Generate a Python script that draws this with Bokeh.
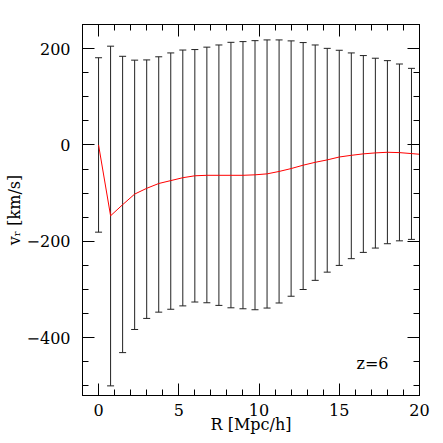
import math
from bokeh.plotting import figure
from bokeh.models import (ColumnDataSource, Range1d, LinearAxis, SingleIntervalTicker,
                          CustomJSTickFormatter, Label)
from bokeh.embed import file_html
from bokeh.resources import INLINE

# ---- data ----
R = [0.0, 0.75, 1.5, 2.25, 3.0, 3.75, 4.5, 5.25, 6.0, 6.75, 7.5, 8.25, 9.0, 9.75,
     10.5, 11.25, 12.0, 12.75, 13.5, 14.25, 15.0, 15.75, 16.5, 17.25, 18.0, 18.75,
     19.5, 20.25]
vr_mean = [0, -147, -124, -102, -90, -80, -74, -68, -64, -63, -63, -63, -63, -62,
           -60, -55, -49, -42, -36, -31, -25, -21.5, -18.5, -16.5, -15.2, -15.9,
           -17.9, -20]
vr_upper = [181, 205, 184, 176, 176.5, 183, 191, 197, 198, 203, 207.5, 213, 214.5,
            216.5, 218, 218, 216, 212.5, 207.5, 200.5, 196.5, 191, 185.5, 180, 175,
            168, 159, 150]
vr_lower = [-181, -500, -431, -383, -360, -347, -341, -334, -326, -327.5, -333, -338,
            -340, -342, -338.5, -328, -314, -300, -281, -264, -250, -236, -223, -214,
            -205, -199, -196, -192]
x_label = "R [Mpc/h]"
y_label = "v\u1d63 [km/s]"
z_text = "z=6"

FONT = "DejaVu Serif"

src = ColumnDataSource(dict(x=R, m=vr_mean, up=vr_upper, lo=vr_lower))

p = figure(width=443, height=443, output_backend="svg", toolbar_location=None,
           x_range=Range1d(-1, 20), y_range=Range1d(-520, 250),
           min_border_left=82, min_border_right=24, min_border_top=24,
           min_border_bottom=48, background_fill_color="white",
           border_fill_color="white")
p.xgrid.visible = False
p.ygrid.visible = False
p.outline_line_color = "black"
p.outline_line_width = 1

fmt = CustomJSTickFormatter(code="return tick < 0 ? '\\u2212' + Math.abs(tick) : String(tick);")
blank = CustomJSTickFormatter(code="return '';")

def style(ax, ticker, show_labels, standoff):
    ax.ticker = ticker
    ax.major_tick_in = 12
    ax.major_tick_out = 0
    ax.minor_tick_in = 6
    ax.minor_tick_out = 0
    ax.axis_line_color = "black"
    ax.major_tick_line_color = "black"
    ax.minor_tick_line_color = "black"
    ax.major_label_standoff = standoff
    ax.major_label_text_font = FONT
    ax.major_label_text_font_size = "16px"
    ax.major_label_text_color = "black"
    ax.formatter = fmt if show_labels else blank

bottom_ax = p.xaxis[0]
left_ax = p.yaxis[0]
style(bottom_ax, SingleIntervalTicker(interval=5, num_minor_ticks=5), True, 8)
style(left_ax, SingleIntervalTicker(interval=200, num_minor_ticks=4), True, 12)
top_ax = LinearAxis()
right_ax = LinearAxis()
style(top_ax, SingleIntervalTicker(interval=5, num_minor_ticks=5), False, 0)
style(right_ax, SingleIntervalTicker(interval=200, num_minor_ticks=4), False, 0)
p.add_layout(top_ax, "above")
p.add_layout(right_ax, "right")

for ax, lab, so in ((bottom_ax, x_label, -4), (left_ax, y_label, 0)):
    ax.axis_label = lab
    ax.axis_label_text_font = FONT
    ax.axis_label_text_font_size = "16px"
    ax.axis_label_text_font_style = "normal"
    ax.axis_label_text_color = "black"
    ax.axis_label_standoff = so

# error bars
p.segment(x0="x", y0="lo", x1="x", y1="up", source=src, line_color="#222222", line_width=1)
p.scatter(x="x", y="up", source=src, marker="dash", size=7, line_color="#222222", line_width=1)
p.scatter(x="x", y="lo", source=src, marker="dash", size=7, line_color="#222222", line_width=1)

# mean radial velocity
p.line(x="x", y="m", source=src, line_color="red", line_width=1)

# redshift tag (screen offsets relative to the plot frame)
p.add_layout(Label(x=274, y=32.5, x_units="screen", y_units="screen", text=z_text,
                   text_align="left", text_baseline="alphabetic",
                   text_font=FONT, text_font_size="16px", text_color="black"))

open("out.html", "w").write(file_html(p, INLINE))
